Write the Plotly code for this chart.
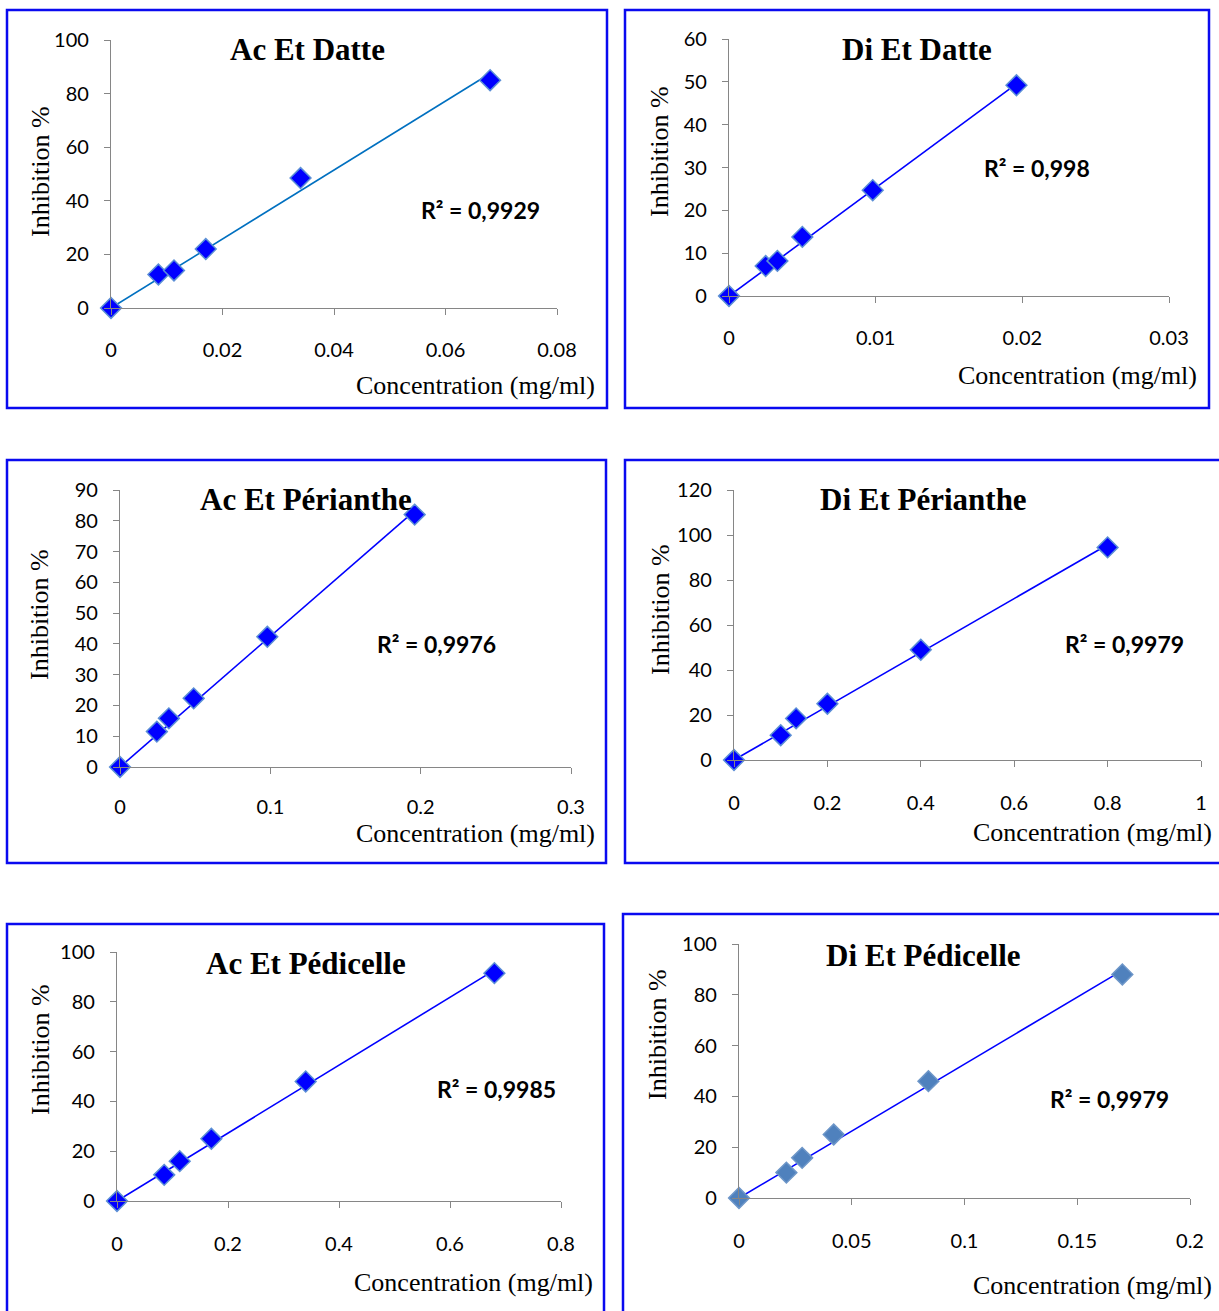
import numpy as np
import plotly.graph_objects as go

W, H = 1219, 1311

# ---------------- data ----------------
titles = ["Ac Et Datte", "Di Et Datte", "Ac Et Périanthe",
          "Di Et Périanthe", "Ac Et Pédicelle", "Di Et Pédicelle"]
r2_labels = ["R² = 0,9929", "R² = 0,998", "R² = 0,9976",
             "R² = 0,9979", "R² = 0,9985", "R² = 0,9979"]

x_ac_datte = [0, 0.0085, 0.0113, 0.017, 0.034, 0.068]
y_ac_datte = [0, 12.5, 14, 22, 48.5, 85]
x_di_datte = [0, 0.0025, 0.0033, 0.005, 0.0098, 0.0196]
y_di_datte = [0, 7, 8.2, 13.8, 24.7, 49.2]
x_ac_perianthe = [0, 0.0245, 0.0325, 0.049, 0.098, 0.196]
y_ac_perianthe = [0, 11.5, 15.8, 22.3, 42.3, 82]
x_di_perianthe = [0, 0.1, 0.133, 0.2, 0.4, 0.8]
y_di_perianthe = [0, 11, 18.5, 25, 49, 94.5]
x_ac_pedicelle = [0, 0.085, 0.113, 0.17, 0.34, 0.68]
y_ac_pedicelle = [0, 10.5, 16, 25, 48, 91.5]
x_di_pedicelle = [0, 0.021, 0.028, 0.042, 0.084, 0.17]
y_di_pedicelle = [0, 10, 15.8, 25, 46, 88]

xticks_ac_datte = [0, 0.02, 0.04, 0.06, 0.08]
xticks_di_datte = [0, 0.01, 0.02, 0.03]
xticks_ac_perianthe = [0, 0.1, 0.2, 0.3]
xticks_di_perianthe = [0, 0.2, 0.4, 0.6, 0.8, 1]
xticks_ac_pedicelle = [0, 0.2, 0.4, 0.6, 0.8]
xticks_di_pedicelle = [0, 0.05, 0.1, 0.15, 0.2]

yticks_ac_datte = [0, 20, 40, 60, 80, 100]
yticks_di_datte = [0, 10, 20, 30, 40, 50, 60]
yticks_ac_perianthe = [0, 10, 20, 30, 40, 50, 60, 70, 80, 90]
yticks_di_perianthe = [0, 20, 40, 60, 80, 100, 120]
yticks_ac_pedicelle = [0, 20, 40, 60, 80, 100]
yticks_di_pedicelle = [0, 20, 40, 60, 80, 100]

xs = [x_ac_datte, x_di_datte, x_ac_perianthe, x_di_perianthe, x_ac_pedicelle, x_di_pedicelle]
ys = [y_ac_datte, y_di_datte, y_ac_perianthe, y_di_perianthe, y_ac_pedicelle, y_di_pedicelle]
xticks = [xticks_ac_datte, xticks_di_datte, xticks_ac_perianthe,
          xticks_di_perianthe, xticks_ac_pedicelle, xticks_di_pedicelle]
yticks = [yticks_ac_datte, yticks_di_datte, yticks_ac_perianthe,
          yticks_di_perianthe, yticks_ac_pedicelle, yticks_di_pedicelle]

# ---------------- layout (pixel geometry) ----------------
boxes = [(111, 557, 308, 40), (729, 1169, 296, 39),
         (120, 571, 767, 490), (734, 1201, 760, 490),
         (117, 561, 1201, 952), (739, 1190, 1198, 944)]
borders = [(7, 10, 607, 408), (625, 10, 1209, 408),
           (7, 460, 606, 863), (625, 460, 1226, 863),
           (7, 924, 604, 1320), (623, 914, 1226, 1320)]
title_pos = [(307, 50), (917, 50), (306, 499), (924, 499), (306, 963), (923, 955)]
r2_pos = [(480, 210), (1037, 168), (437, 644), (1124, 644), (496, 1089), (1109, 1099)]
ytitle_pos = [(40, 172), (660, 152), (40, 615), (660, 610), (40, 1050), (657, 1035)]
xtitle_pos = [(597, 386), (1199, 375), (597, 834), (1214, 833), (595, 1282), (1214, 1285)]
xtick_standoff = [18, 18, 16, 19, 19, 19]

line_colors = ["#0070C0", "#0000FF", "#0000FF", "#0000FF", "#0000FF", "#0000FF"]
marker_fill = ["#0000FF"] * 5 + ["#4F81BD"]
marker_edge = ["#5B8FD6"] * 5 + ["#6D96C8"]

def px(x):
    return x / W

def py(y):
    return 1 - y / H

fig = go.Figure()
annotations = []
shapes = []

for i in range(6):
    n = "" if i == 0 else str(i + 1)
    x = np.array(xs[i], dtype=float)
    y = np.array(ys[i], dtype=float)
    slope = float((x * y).sum() / (x * x).sum())
    xl = [0.0, float(x.max())]
    yl = [slope * v for v in xl]

    fig.add_trace(go.Scatter(x=xl, y=yl, mode="lines",
                             line=dict(color=line_colors[i], width=1.6),
                             xaxis="x" + n, yaxis="y" + n, showlegend=False,
                             cliponaxis=False, hoverinfo="skip"))
    fig.add_trace(go.Scatter(x=xs[i], y=ys[i], mode="markers",
                             marker=dict(symbol="diamond", size=16, color=marker_fill[i],
                                         line=dict(color=marker_edge[i], width=1.5)),
                             xaxis="x" + n, yaxis="y" + n, showlegend=False,
                             cliponaxis=False))

    x0, x1, yb, yt = boxes[i]
    axcommon = dict(showgrid=False, zeroline=False, showline=True, automargin=False,
                    linecolor="#868686", linewidth=1.2, ticks="outside",
                    ticklen=6, tickcolor="#868686", tickwidth=1.2,
                    tickfont=dict(family="Lato", size=20, color="#000000"))
    fig.update_layout(**{
        "xaxis" + n: dict(domain=[px(x0), px(x1)], range=[0, xticks[i][-1]],
                          anchor="y" + n, tickvals=xticks[i],
                          ticktext=[f"{v:g}" for v in xticks[i]],
                          ticklabelstandoff=xtick_standoff[i], **axcommon),
        "yaxis" + n: dict(domain=[py(yb), py(yt)], range=[0, yticks[i][-1]],
                          anchor="x" + n, tickvals=yticks[i],
                          ticktext=[f"{v:g}" for v in yticks[i]],
                          ticklabelstandoff=11, **axcommon),
    })

    bx0, by0, bx1, by1 = borders[i]
    shapes.append(dict(type="rect", xref="paper", yref="paper",
                       x0=px(bx0), x1=px(bx1), y0=py(by1), y1=py(by0),
                       line=dict(color="#0A0AF0", width=2.5)))

    tx, ty = title_pos[i]
    annotations.append(dict(text=f"<b>{titles[i]}</b>", x=px(tx), y=py(ty),
                            xref="paper", yref="paper", showarrow=False,
                            xanchor="center", yanchor="middle",
                            font=dict(family="Liberation Serif", size=31, color="#000000")))
    rx, ry = r2_pos[i]
    annotations.append(dict(text=f"<b>{r2_labels[i]}</b>", x=px(rx), y=py(ry),
                            xref="paper", yref="paper", showarrow=False,
                            xanchor="center", yanchor="middle",
                            font=dict(family="Lato", size=23, color="#000000")))
    yx, yy = ytitle_pos[i]
    annotations.append(dict(text="Inhibition %", x=px(yx), y=py(yy),
                            xref="paper", yref="paper", showarrow=False,
                            textangle=-90, xanchor="center", yanchor="middle",
                            font=dict(family="Liberation Serif", size=26, color="#000000")))
    xx, xy = xtitle_pos[i]
    annotations.append(dict(text="Concentration (mg/ml)", x=px(xx), y=py(xy),
                            xref="paper", yref="paper", showarrow=False,
                            xanchor="right", yanchor="middle",
                            font=dict(family="Liberation Serif", size=26, color="#000000")))

fig.update_layout(width=W, height=H, margin=dict(l=0, r=0, t=0, b=0, pad=0),
                  template="none",
                  paper_bgcolor="white", plot_bgcolor="white",
                  annotations=annotations, shapes=shapes, showlegend=False)

fig.write_html("out.html",
               config={"displayModeBar": False},
               post_script="document.body.style.margin='0';"
                           "document.body.style.padding='0';"
                           "document.body.style.overflow='hidden';"
                           "document.documentElement.style.overflow='hidden';")
